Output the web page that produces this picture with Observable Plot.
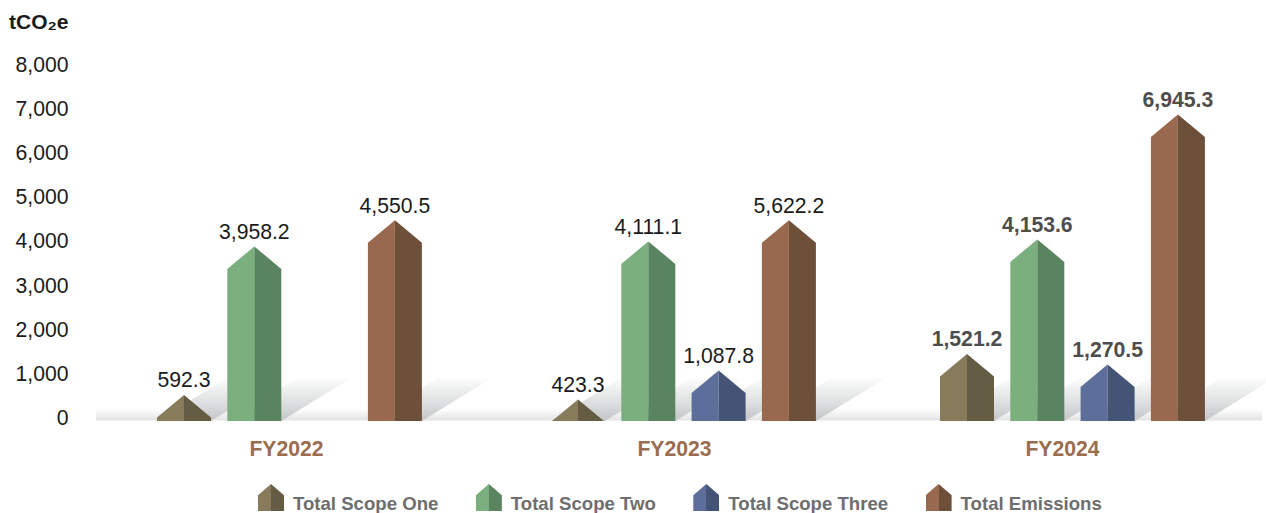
<!DOCTYPE html>
<html>
<head>
<meta charset="utf-8">
<script src="https://cdn.jsdelivr.net/npm/d3@7"></script>
<script src="https://cdn.jsdelivr.net/npm/@observablehq/plot@0.6"></script>
<style>
  html, body { margin: 0; padding: 0; background: #fff; }
  body { font-family: "Liberation Sans", Arial, sans-serif; width: 1266px; height: 513px; overflow: hidden; }
  #legend { display: flex; gap: 37.5px; margin-left: 258px; height: 33px; align-items: flex-start; }
  .item { display: flex; align-items: flex-start; }
  .swatch { width: 26px; height: 27px; margin-top: 4px; margin-right: 9px; clip-path: polygon(0 100%, 0 42%, 50% 0, 100% 42%, 100% 100%); }
  .lab { font-size: 18.6px; font-weight: bold; color: #6e6e6e; line-height: 20px; margin-top: 14px; }
</style>
</head>
<body>
<div id="chart"></div>
<div id="legend"></div>
<script>
// ---- data ----
const years = ["FY2022", "FY2023", "FY2024"];
const seriesNames = ["Total Scope One", "Total Scope Two", "Total Scope Three", "Total Emissions"];
// printed labels
const scopeOne   = [592.3, 423.3, 1521.2];
const scopeTwo   = [3958.2, 4111.1, 4153.6];
const scopeThree = [null, 1087.8, 1270.5];
const emissions  = [4550.5, 5622.2, 6945.3];
// drawn heights of the bars (the picture's bars do not always agree with the labels)
const scopeOneDrawn   = [590, 490, 1521];
const scopeTwoDrawn   = [3957, 4070, 4116];
const scopeThreeDrawn = [null, 1145, 1281];
const emissionsDrawn  = [4550, 4550, 6945];
const yTicks = [0, 1000, 2000, 3000, 4000, 5000, 6000, 7000, 8000];
const unitLabel = "tCO₂e";

// ---- styling / layout ----
const leftColors  = ["#877b5c", "#7bb07e", "#5e6e9a", "#98694e"];
const rightColors = ["#655c44", "#5a845f", "#445475", "#6e4f39"];
const groupOrigin = [183.5, 577.5, 966.5];
const groupCenter = [286, 674, 1062];
const slotStep = 70.3;
const halfW = 27;
const roofRise = 510;      // y units between ridge and eave
const shadowTop = 964;     // y units
const shadowRun = 69;      // x units at shadowTop
const floorTop = 270;
const boldYears = [false, false, true];

const labelled = [scopeOne, scopeTwo, scopeThree, emissions];
const drawn = [scopeOneDrawn, scopeTwoDrawn, scopeThreeDrawn, emissionsDrawn];

const bars = [];
years.forEach((year, g) => seriesNames.forEach((name, s) => {
  if (drawn[s][g] == null) return;
  bars.push({year, g, s, name, value: labelled[s][g], h: drawn[s][g],
             c: groupOrigin[g] + s * slotStep, id: year + name});
}));

const leftFaces = [], rightFaces = [], shadows = [];
for (const b of bars) {
  const eave = b.h - roofRise;
  const w = eave >= 0 ? halfW : halfW * b.h / roofRise;
  const side = sign => eave >= 0
    ? [[b.c + sign * w, 0], [b.c + sign * w, eave], [b.c, b.h], [b.c, 0]]
    : [[b.c + sign * w, 0], [b.c, b.h], [b.c, 0]];
  side(-1).forEach(([x, y]) => leftFaces.push({id: b.id, x, y, fill: leftColors[b.s]}));
  side(1).forEach(([x, y]) => rightFaces.push({id: b.id, x, y, fill: rightColors[b.s]}));
  [[b.c - halfW, 0], [b.c + halfW, 0], [b.c + halfW + shadowRun, shadowTop], [b.c - halfW + shadowRun, shadowTop]]
    .forEach(([x, y]) => shadows.push({id: b.id, x, y}));
}

function defs() {
  const d = d3.create("svg:defs");
  const grad = (id, stops) => {
    const g = d.append("linearGradient").attr("id", id).attr("x1", 0).attr("x2", 0).attr("y1", 1).attr("y2", 0);
    stops.forEach(([o, c, a]) => g.append("stop").attr("offset", o).attr("stop-color", c).attr("stop-opacity", a));
  };
  grad("shadowGrad", [[0, "#c2c4c7", 1], [0.4, "#dcddde", 1], [0.8, "#f1f2f2", 1], [1, "#fcfcfc", 1]]);
  grad("floorGrad", [[0, "#e2e3e3", 1], [1, "#ffffff", 1]]);
  return d.node();
}

const font = '"Liberation Sans", Arial, sans-serif';
const fmt = d3.format(",.1f");
const valueLabels = (data, fontWeight, fill) => Plot.text(data, {x: "c", y: "h", text: d => fmt(d.value), dy: -14.3,
  lineAnchor: "middle", textAnchor: "middle", fontSize: 21.2, fontWeight, fill});

const chart = Plot.plot({
  width: 1266, height: 480,
  marginLeft: 68, marginRight: 0, marginTop: 0, marginBottom: 0,
  style: {fontFamily: font, background: "transparent"},
  x: {type: "linear", domain: [68, 1266], range: [68, 1266], axis: null},
  y: {type: "linear", domain: [0, 8000], range: [420.5, 67.5], axis: null},
  marks: [
    defs,
    Plot.rect([floorTop], {x1: 96, x2: 1262, y1: 0, y2: d => d, fill: "url(#floorGrad)"}),
    Plot.line(shadows, {x: "x", y: "y", z: "id", fill: "url(#shadowGrad)", stroke: null}),
    Plot.line(leftFaces, {x: "x", y: "y", z: "id", fill: "fill", stroke: null}),
    Plot.line(rightFaces, {x: "x", y: "y", z: "id", fill: "fill", stroke: null}),
    Plot.axisY(yTicks, {anchor: "left", tickSize: 0, tickPadding: 0, tickFormat: d3.format(","),
      fontSize: 21.2, fill: "#1a1a1a", dy: -2.8, label: null}),
    Plot.text([unitLabel], {frameAnchor: "top-left", dx: -59.5, dy: 22, lineAnchor: "middle", textAnchor: "start",
      fontSize: 21, fontWeight: "bold", fill: "#1a1a1a"}),
    valueLabels(bars.filter(d => !boldYears[d.g]), "normal", "#1a1a1a"),
    valueLabels(bars.filter(d => boldYears[d.g]), "bold", "#4d4d4d"),
    Plot.text(years, {x: (d, i) => groupCenter[i], frameAnchor: "bottom", dy: -31, lineAnchor: "middle",
      textAnchor: "middle", fontSize: 21.2, fontWeight: "bold", fill: "#9a6d4f"})
  ]
});
document.getElementById("chart").appendChild(chart);
chart.style.display = "block";

const legend = d3.select("#legend");
seriesNames.forEach((name, s) => {
  const it = legend.append("div").attr("class", "item");
  it.append("div").attr("class", "swatch")
    .style("background", `linear-gradient(90deg, ${leftColors[s]} 50%, ${rightColors[s]} 50%)`);
  it.append("div").attr("class", "lab").text(name);
});
</script>
</body>
</html>
